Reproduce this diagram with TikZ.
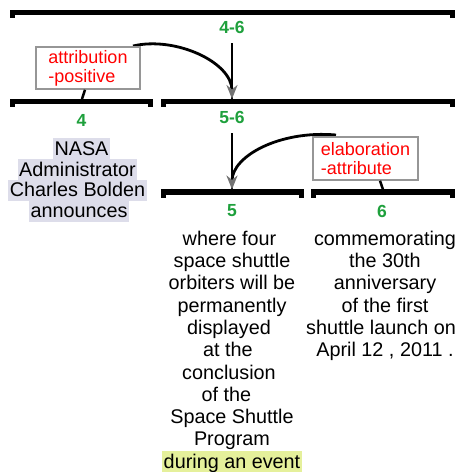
\documentclass[tikz,border=0pt]{standalone}
\usepackage{fontspec}
\setmainfont{Liberation Sans}
\usetikzlibrary{arrows.meta}
\definecolor{rstgreen}{RGB}{30,160,60}
\definecolor{hlgray}{RGB}{221,221,234}
\definecolor{hlyellow}{RGB}{229,240,155}
\definecolor{boxgray}{RGB}{150,150,150}
\newcommand{\hlbox}[2]{{\setlength{\fboxsep}{0pt}\colorbox{#1}{\kern1.5pt\rule[-4pt]{0pt}{20.8pt}#2\kern1.5pt}}}
\newcommand{\rstbar}[3]{\fill (#1,#3-2.75) rectangle (#2,#3+2.75); \fill (#1,#3) rectangle (#1+5,#3+5.5); \fill (#2-5,#3) rectangle (#2,#3+5.5);}
\begin{document}
\begin{tikzpicture}[x=1pt,y=-1pt,
  num/.style={text=rstgreen,font=\fontsize{17.5}{19}\selectfont\bfseries,inner sep=0pt},
  seg/.style={align=center,inner sep=0pt,anchor=north,font=\fontsize{19.8}{22.3}\selectfont},
  rel/.style={draw=boxgray,line width=1.5pt,fill=white,text=red,align=left,inner sep=0pt,font=\fontsize{18}{19}\selectfont},
  vline/.style={line width=2.8pt,shorten <=9.5pt},
  arc/.style={line width=2.8pt,-{Stealth[length=14pt,width=11pt,inset=4.5pt,color=black!55,fill=black!55]}},
  link/.style={line width=2.5pt}]
\useasboundingbox (0,0) rectangle (457,472);
% span bars
\rstbar{9.5}{455}{12.5}
\rstbar{9.5}{153}{101.5}
\rstbar{160.5}{455}{101.5}
\rstbar{160.5}{303.5}{192}
\rstbar{311}{455}{192}
% span labels
\node[num] (l46) at (232,27.5) {4-6};
\node[num] (l4) at (81.5,120.5) {4};
\node[num] (l56) at (232,117.5) {5-6};
\node[num] (l5) at (232,211) {5};
\node[num] (l6) at (382,211) {6};
% segment texts
\node[seg,font=\fontsize{19.8}{20.8}\selectfont] (t4) at (77.5,138.2)
  {\kern8pt\hlbox{hlgray}{NASA}\\\hlbox{hlgray}{Administrator}\\\hlbox{hlgray}{Charles Bolden}\\\kern3pt\hlbox{hlgray}{announces}};
\node[seg] (t5) at (232,230)
  {\rule{0pt}{15pt}where four\kern5pt\\space shuttle\\orbiters will be\\permanently\\displayed\kern6pt\\at the\kern8pt\\conclusion\kern6pt\\of the\kern11pt\\Space Shuttle\\Program\\\hlbox{hlyellow}{during an event}};
\node[seg] (t6) at (385,230)
  {\rule{0pt}{15pt}commemorating\\the 30th\\anniversary\\of the first\\shuttle launch on\kern8pt\\April 12 , 2011 .};
% anchor points
\coordinate (b56top) at (232,99);
\coordinate (b5top) at (232,189.5);
\coordinate (b4top) at (82,99);
\coordinate (b6top) at (383,189.5);
\coordinate (c1) at (133,46);
\coordinate (c2) at (336,135);
% connectors
\draw[vline] (l46) -- (b56top);
\draw[vline] (l56) -- (b5top);
\draw[arc] (c1) .. controls (175,36) and (232,62) .. (b56top);
\draw[arc] (c2) .. controls (280,130) and (232,156) .. (b5top);
% relation labels
\node[rel,minimum width=104pt,minimum height=42pt] (attr) at (88,68) {attribution\\-positive};
\node[rel,minimum width=105pt,minimum height=43pt] (elab) at (365.5,158.5) {elaboration\\-attribute};
\draw[link] (b4top) -- ([xshift=-3pt]attr.south);
\draw[link] (b6top) -- ([xshift=14.5pt]elab.south);
\end{tikzpicture}
\end{document}
